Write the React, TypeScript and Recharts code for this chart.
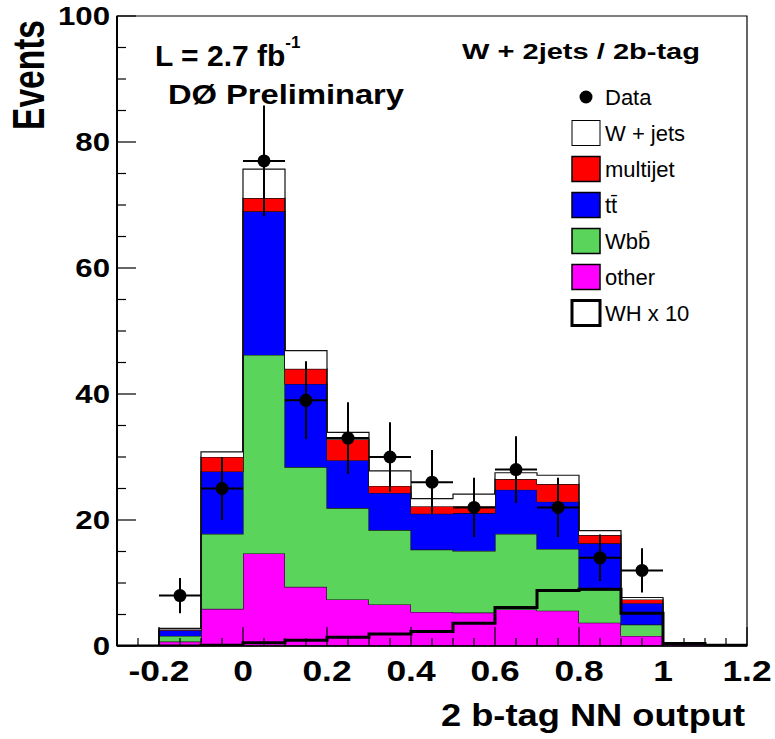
import React from "react";
import {
  ComposedChart,
  Area,
  Line,
  Scatter,
  ErrorBar,
  XAxis,
  YAxis,
  ReferenceArea,
  Legend,
} from "recharts";

// bin edges of the NN output histogram (15 bins of 0.1)
const binEdges = [-0.3, -0.2, -0.1, 0, 0.1, 0.2, 0.3, 0.4, 0.5, 0.6, 0.7, 0.8, 0.9, 1.0, 1.1, 1.2];

// per-bin contents, bottom of the stack first
const other = [0, 0.7, 5.9, 14.7, 9.4, 7.4, 6.6, 5.4, 5.3, 5.8, 5.6, 3.7, 1.6, 0.3, 0];
const wbb = [0, 0.9, 11.9, 31.5, 19.0, 14.5, 11.8, 9.9, 9.8, 12.0, 9.8, 5.2, 1.8, 0, 0];
const ttbar = [0, 0.9, 9.9, 22.8, 13.2, 7.6, 5.9, 5.7, 6.0, 7.0, 7.5, 7.4, 3.4, 0, 0];
const multijet = [0, 0.1, 2.3, 2.1, 2.4, 3.3, 1.1, 1.2, 1.1, 1.7, 2.8, 1.3, 0.6, 0, 0];
const wjets = [0, 0.2, 0.8, 4.6, 2.9, 1.1, 2.4, 1.2, 1.9, 1.0, 1.4, 0.7, 0.3, 0.1, 0];
const whx10 = [0, 0, 0.1, 0.5, 0.9, 1.4, 1.9, 2.3, 3.6, 6.1, 8.8, 9.0, 5.2, 0.4, 0.1];

// observed data and its errors
const dataCounts = [0, 8, 25, 77, 39, 33, 30, 26, 22, 28, 22, 14, 12, 0, 0];
const dataErrors = [0, 2.8, 5.0, 8.8, 6.2, 5.7, 5.5, 5.1, 4.7, 5.3, 4.7, 3.7, 3.5, 0, 0];

const yTicks = [0, 5, 10, 15, 20, 25, 30, 35, 40, 45, 50, 55, 60, 65, 70, 75, 80, 85, 90, 95, 100];
const xTicks = [
  -0.3, -0.25, -0.2, -0.15, -0.1, -0.05, 0, 0.05, 0.1, 0.15, 0.2, 0.25, 0.3, 0.35, 0.4, 0.45,
  0.5, 0.55, 0.6, 0.65, 0.7, 0.75, 0.8, 0.85, 0.9, 0.95, 1.0, 1.05, 1.1, 1.15, 1.2,
];
const xLabels = [-0.2, 0, 0.2, 0.4, 0.6, 0.8, 1, 1.2];

const FONT = "'Liberation Sans', Arial, Helvetica, sans-serif";
const GREEN = "#5ad45a";

const last = (arr: number[], i: number) => (i < arr.length ? arr[i] : 0);

const histRows = binEdges.map((x, i) => ({
  x,
  other: last(other, i),
  wbb: last(wbb, i),
  ttbar: last(ttbar, i),
  multijet: last(multijet, i),
  wjets: last(wjets, i),
  wh: last(whx10, i),
}));

const dataPoints = dataCounts
  .map((n, i) => ({ x: binEdges[i] + 0.05, n, ey: dataErrors[i], ex: 0.05 }))
  .filter((d) => d.n > 0);

const YTick = (p: any) => {
  const v = p.payload.value;
  const major = v % 20 === 0;
  return (
    <g>
      <line x1={p.x} x2={p.x + (major ? 19 : 9)} y1={p.y} y2={p.y} stroke="#000" strokeWidth={1.2} />
      {major && (
        <text
          transform={`translate(${p.x - 7},${p.y + 9}) scale(1.2,1)`}
          textAnchor="end"
          fontSize={26}
          fontWeight="bold"
          fontFamily={FONT}
          fill="#000"
        >
          {v}
        </text>
      )}
    </g>
  );
};

const XTick = (p: any) => {
  const v = p.payload.value;
  const labelled = xLabels.some((l) => Math.abs(l - v) < 1e-6);
  return (
    <g>
      <line x1={p.x} x2={p.x} y1={p.y} y2={p.y - (labelled ? 19 : 8)} stroke="#000" strokeWidth={1.2} />
      {labelled && (
        <text
          transform={`translate(${p.x},${p.y + 35}) scale(1.18,1)`}
          textAnchor="middle"
          fontSize={30}
          fontWeight="bold"
          fontFamily={FONT}
          fill="#000"
        >
          {String(Number(v.toFixed(2)))}
        </text>
      )}
    </g>
  );
};

const legendRows = [
  { label: "Data", kind: "marker" },
  { label: "W + jets", fill: "#fff", sw: 1 },
  { label: "multijet", fill: "#ff0000", sw: 1.5 },
  { label: "tt\u0304", fill: "#0000ff", sw: 1.5 },
  { label: "Wbb\u0304", fill: GREEN, sw: 1.5 },
  { label: "other", fill: "#ff00ff", sw: 1.5 },
  { label: "WH x 10", fill: "#fff", sw: 3 },
];

const LegendBox = () => (
  <svg width={170} height={250}>
    {legendRows.map((r, i) => {
      const cy = 16 + i * 36;
      return (
        <g key={r.label}>
          {r.kind === "marker" ? (
            <circle cx={20} cy={cy} r={6.5} fill="#000" />
          ) : (
            <rect x={6} y={cy - 12.5} width={28} height={25} fill={r.fill} stroke="#000" strokeWidth={r.sw} />
          )}
          <text x={39} y={cy + 8} fontSize={22} fontFamily={FONT} fill="#000">
            {r.label}
          </text>
        </g>
      );
    })}
  </svg>
);

const Dot = (p: any) => <circle cx={p.cx} cy={p.cy} r={6.5} fill="#000" />;

export default function App() {
  return (
    <div style={{ position: "absolute", left: 0, top: 0, width: 775, height: 739, background: "#fff" }}>
      <ComposedChart width={775} height={739} data={histRows} margin={{ top: 16, right: 28, bottom: 0, left: 0 }}>
        <XAxis
          dataKey="x"
          type="number"
          domain={[-0.3, 1.2]}
          allowDataOverflow
          ticks={xTicks}
          interval={0}
          tickSize={0}
          tickMargin={0}
          tickLine={false}
          height={93}
          axisLine={{ stroke: "#000", strokeWidth: 1.5 }}
          tick={<XTick />}
        />
        <YAxis
          type="number"
          domain={[0, 100]}
          allowDataOverflow
          ticks={yTicks}
          interval={0}
          tickSize={0}
          tickMargin={0}
          tickLine={false}
          width={117}
          axisLine={{ stroke: "#000", strokeWidth: 2 }}
          tick={<YTick />}
        />
        <Area type="stepAfter" dataKey="other" stackId="mc" fill="#ff00ff" fillOpacity={1} stroke="#111" strokeWidth={1.2} isAnimationActive={false} />
        <Area type="stepAfter" dataKey="wbb" stackId="mc" fill={GREEN} fillOpacity={1} stroke="#111" strokeWidth={1.2} isAnimationActive={false} />
        <Area type="stepAfter" dataKey="ttbar" stackId="mc" fill="#0000ff" fillOpacity={1} stroke="#111" strokeWidth={1.2} isAnimationActive={false} />
        <Area type="stepAfter" dataKey="multijet" stackId="mc" fill="#ff0000" fillOpacity={1} stroke="#111" strokeWidth={1.2} isAnimationActive={false} />
        <Area type="stepAfter" dataKey="wjets" stackId="mc" fill="#ffffff" fillOpacity={1} stroke="#111" strokeWidth={1.2} isAnimationActive={false} />
        <Line type="stepAfter" dataKey="wh" stroke="#000" strokeWidth={3} dot={false} activeDot={false} isAnimationActive={false} />
        <Scatter data={dataPoints} dataKey="n" shape={<Dot />} isAnimationActive={false}>
          <ErrorBar dataKey="ey" direction="y" width={0} stroke="#000" strokeWidth={2} />
          <ErrorBar dataKey="ex" direction="x" width={0} stroke="#000" strokeWidth={2} />
        </Scatter>
        <ReferenceArea x1={-0.3} x2={1.2} y1={0} y2={100} fill="none" stroke="#000" strokeWidth={1.2} />
        <Legend
          layout="vertical"
          align="center"
          verticalAlign="middle"
          content={<LegendBox />}
          wrapperStyle={{ position: "absolute", left: 566, top: 81, width: 170, height: 250 }}
        />
      </ComposedChart>
      <svg
        width={775}
        height={739}
        style={{ position: "absolute", left: 0, top: 0, pointerEvents: "none" }}
        fontFamily={FONT}
        fontWeight="bold"
      >
        <text x={155} y={66} fontSize={30}>
          L = 2.7 fb
          <tspan dy={-18} fontSize={17}>
            -1
          </tspan>
        </text>
        <text x={168} y={104} fontSize={28} textLength={236} lengthAdjust="spacingAndGlyphs">
          DØ Preliminary
        </text>
        <text x={462} y={59} fontSize={22} textLength={238} lengthAdjust="spacingAndGlyphs">
          W + 2jets / 2b-tag
        </text>
        <text transform="translate(44,75) scale(1.3,1) rotate(-90)" textAnchor="middle" fontSize={33.5}>
          Events
        </text>
        <text x={745} y={726} textAnchor="end" fontSize={32} textLength={304} lengthAdjust="spacingAndGlyphs">
          2 b-tag NN output
        </text>
      </svg>
    </div>
  );
}
